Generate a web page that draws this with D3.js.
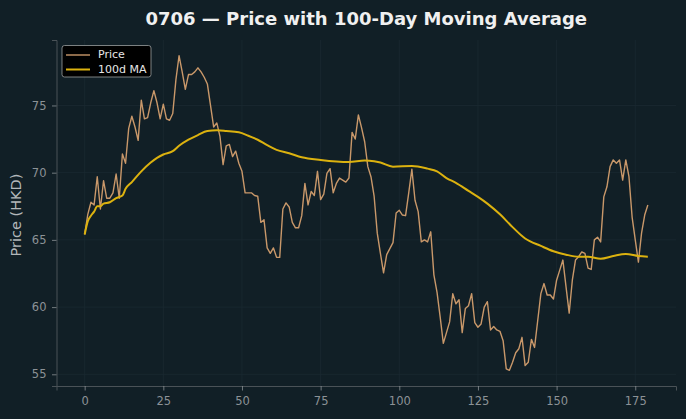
<!DOCTYPE html>
<html>
<head>
<meta charset="utf-8">
<script src="https://cdn.jsdelivr.net/npm/d3@7"></script>
<style>
  html, body { margin: 0; padding: 0; background: #111f26; }
  svg { display: block; font-family: "DejaVu Sans", sans-serif; }
</style>
</head>
<body>
<svg id="chart" width="686" height="419"></svg>
<script>
// chart data
var title = '0706 \u2014 Price with 100-Day Moving Average';
var yLabel = 'Price (HKD)';
var xTicks = [0, 25, 50, 75, 100, 125, 150, 175];
var yTicks = [55, 60, 65, 70, 75];

// daily closing prices, day 0..179
var price = [
  65.4, 66.9, 67.8, 67.6, 69.7, 67.3, 69.4, 68.1, 68.1, 68.5,
  69.9, 68.1, 71.4, 70.7, 73.3, 74.2, 73.4, 72.4, 75.4, 74.0,
  74.1, 75.2, 76.1, 75.2, 74.0, 75.1, 74.0, 73.9, 74.4, 76.9,
  78.7, 77.5, 76.2, 77.3, 77.3, 77.5, 77.8, 77.5, 77.1, 76.6,
  75.0, 73.4, 73.7, 72.7, 70.6, 72.0, 72.1, 71.2, 71.6, 70.7,
  70.1, 68.5, 68.5, 68.5, 68.3, 68.25, 66.3, 66.5, 64.4, 64.0,
  64.4, 63.7, 63.7, 67.3, 67.75, 67.45, 66.3, 65.9, 65.9, 66.8,
  69.2, 67.6, 68.6, 68.3, 70.1, 68.0, 68.4, 69.95, 70.3, 68.5,
  69.2, 69.6, 69.45, 69.3, 69.6, 73.0, 72.5, 74.3, 73.35, 72.3,
  70.45, 69.7, 68.25, 65.5, 64.0, 62.55, 63.9, 64.35, 64.8, 67.0,
  67.2, 66.85, 66.8, 68.5, 70.25, 67.95, 67.1, 64.85, 65.0, 64.85,
  65.6, 62.4, 61.1, 59.25, 57.3, 58.1, 58.9, 61.0, 60.25, 60.55,
  58.1, 59.9, 60.1, 61.0, 58.85, 58.5, 58.75, 60.0, 60.4, 58.3,
  58.55, 58.3, 58.2, 57.5, 55.4, 55.3, 55.9, 56.6, 56.9, 57.75,
  55.65, 55.9, 57.6, 57.0, 59.0, 61.0, 61.75, 60.9, 60.9, 60.6,
  62.0, 62.75, 63.5, 61.5, 59.55, 62.0, 63.5, 63.75, 64.1, 64.0,
  62.9, 62.8, 65.0, 65.2, 64.85, 68.2, 68.95, 70.45, 70.95, 70.7,
  70.95, 69.45, 70.95, 69.7, 66.7, 65.0, 63.35, 65.5, 66.85, 67.6
];

// 100-day moving average, read at these days
var maDays = [0, 1, 2, 3, 4, 5, 6, 8, 10, 12, 13, 15, 18, 21, 23, 25, 28, 30, 33, 36,
  39, 42, 45, 49, 52, 55, 58, 61, 65, 69, 75, 84, 89, 92, 94, 98, 104, 109, 112, 115,
  118, 122, 125, 128, 132, 136, 140, 145, 149, 153, 157, 160, 164, 168, 172, 176, 179];
var maValues = [65.4, 66.4, 66.8, 67.1, 67.5, 67.5, 67.7, 67.8, 68.1, 68.3, 68.8, 69.3, 70.1, 70.75, 71.1, 71.35, 71.6, 72.0, 72.45, 72.8,
  73.1, 73.15, 73.1, 73.0, 72.75, 72.45, 72.05, 71.7, 71.45, 71.15, 70.95, 70.8, 70.9, 70.85, 70.75, 70.45, 70.5, 70.3, 70.1, 69.6,
  69.25, 68.65, 68.2, 67.7, 66.9, 65.95, 65.1, 64.55, 64.15, 63.9, 63.75, 63.75, 63.6, 63.8, 63.95, 63.8, 63.75];

var priceColor = '#c9986a',
    maColor = '#dcb20f',
    gridColor = '#1b2a31',
    spineColor = '#4a5257',
    tickColor = '#8c9296';

var svg = d3.select('#chart');
var margin = {left: 56.5, right: 10, top: 40, bottom: 33};
var width = 686, height = 419;

// matplotlib style 5% padding
var xPad = (price.length - 1) * 0.05;
var yMin = d3.min(price), yMax = d3.max(price);
var yPad = (yMax - yMin) * 0.05;

var x = d3.scaleLinear()
    .domain([-xPad, price.length - 1 + xPad])
    .range([margin.left, width - margin.right]);
var y = d3.scaleLinear()
    .domain([yMin - yPad, yMax + yPad])
    .range([height - margin.bottom, margin.top]);

// grid
var grid = svg.append('g').attr('class', 'grid');
grid.selectAll('line.gx').data(xTicks).enter().append('line')
    .attr('x1', d => x(d)).attr('x2', d => x(d))
    .attr('y1', margin.top).attr('y2', height - margin.bottom)
    .style('stroke', gridColor).style('stroke-width', 0.8);
grid.selectAll('line.gy').data(yTicks).enter().append('line')
    .attr('y1', d => y(d)).attr('y2', d => y(d))
    .attr('x1', margin.left).attr('x2', width - margin.right)
    .style('stroke', gridColor).style('stroke-width', 0.8);

// axes
var xAxis = svg.append('g')
    .attr('transform', 'translate(0,' + (height - margin.bottom) + ')')
    .call(d3.axisBottom(x).tickValues(xTicks).tickSize(4.5).tickPadding(6));
var yAxis = svg.append('g')
    .attr('transform', 'translate(' + margin.left + ',0)')
    .call(d3.axisLeft(y).tickValues(yTicks).tickSize(4.5).tickPadding(5.5));

[xAxis, yAxis].forEach(function(ax){
    ax.select('.domain').style('stroke', spineColor).style('stroke-width', 1);
    ax.selectAll('.tick line').style('stroke', tickColor).style('stroke-width', 0.8);
    ax.selectAll('.tick text')
      .style('fill', tickColor)
      .style('font-size', '11.5px')
      .style('font-family', '"DejaVu Sans", sans-serif');
});

// lines
var priceLine = d3.line()
    .x((d, i) => x(i))
    .y(d => y(d));
svg.append('path')
    .datum(price)
    .attr('d', priceLine)
    .style('fill', 'none')
    .style('stroke', priceColor)
    .style('stroke-width', 1.4)
    .style('stroke-linejoin', 'round');

var maLine = d3.line()
    .x(d => x(d[0]))
    .y(d => y(d[1]))
    .curve(d3.curveMonotoneX);
svg.append('path')
    .datum(maDays.map((d, i) => [d, maValues[i]]))
    .attr('d', maLine)
    .style('fill', 'none')
    .style('stroke', maColor)
    .style('stroke-width', 2)
    .style('stroke-linejoin', 'round');

// title and y label
svg.append('text')
    .text(title)
    .attr('x', (margin.left + width - margin.right) / 2)
    .attr('y', 25)
    .style('text-anchor', 'middle')
    .style('font-size', '18px')
    .style('font-weight', 'bold')
    .style('fill', '#f0f0f0');

svg.append('text')
    .text(yLabel)
    .attr('transform', 'translate(21,' + ((margin.top + height - margin.bottom) / 2 + 2) + ') rotate(-90)')
    .style('text-anchor', 'middle')
    .style('font-size', '14.5px')
    .style('fill', '#b3b7ba');

// legend
var legend = svg.append('g').attr('transform', 'translate(62,45.5)');
legend.append('rect')
    .attr('width', 89).attr('height', 31.5)
    .attr('rx', 2.5)
    .style('fill', '#000000')
    .style('stroke', '#9a9ea0')
    .style('stroke-width', 0.8);
var items = legend.selectAll('g.item')
    .data([{name: 'Price', color: priceColor, w: 1.4}, {name: '100d MA', color: maColor, w: 2}])
    .enter().append('g')
    .attr('transform', (d, i) => 'translate(0,' + (9.5 + i * 14.5) + ')');
items.append('line')
    .attr('x1', 4).attr('x2', 28)
    .style('stroke', d => d.color)
    .style('stroke-width', d => d.w);
items.append('text')
    .text(d => d.name)
    .attr('x', 36).attr('y', 0)
    .style('dominant-baseline', 'middle')
    .style('font-size', '11px')
    .style('fill', '#e6e6e6');
</script>
</body>
</html>
